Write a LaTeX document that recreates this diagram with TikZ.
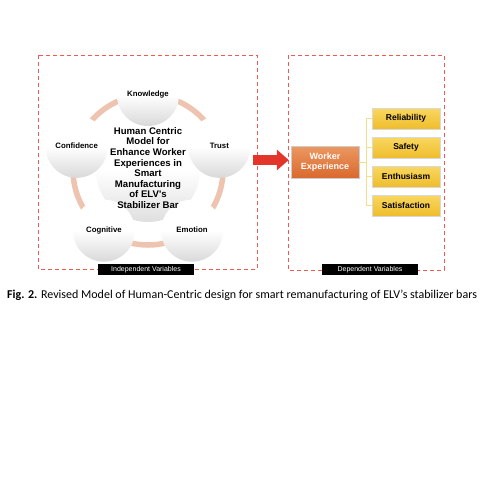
\documentclass[tikz,border=0pt]{standalone}
\usepackage{fontspec}
\setmainfont{Carlito}
\newfontfamily\dfont{Liberation Sans}
\usetikzlibrary{calc,arrows.meta,shadows}

\definecolor{dashred}{HTML}{EE5A55}
\definecolor{ringc}{HTML}{EEC3AF}
\definecolor{orgtop}{HTML}{EC9862}
\definecolor{orgbot}{HTML}{D9692D}
\definecolor{yeltop}{HTML}{F9D760}
\definecolor{yelbot}{HTML}{EFBD2C}
\definecolor{treec}{HTML}{F6DE8E}
\definecolor{arrred}{HTML}{E4352B}

\begin{document}
\begin{tikzpicture}[x=1pt,y=-1pt,
  frame/.style={draw=dashred, line width=0.8pt, dash pattern=on 4pt off 3pt},
  tag/.style={fill=black, text=white, font=\dfont\fontsize{7}{8}\selectfont,
    minimum width=96pt, minimum height=11pt, inner sep=0pt},
  ball/.style={circle, minimum size=62pt, inner sep=0pt, top color=white,
    bottom color=gray!30, middle color=white, font=\dfont\bfseries\fontsize{7.8}{8}\selectfont},
  hub/.style={circle, minimum size=104pt, inner sep=0pt, top color=white,
    bottom color=gray!25, middle color=white},
  wbox/.style={rectangle, top color=orgtop, bottom color=orgbot, draw=gray!40,
    minimum width=68pt, minimum height=32pt, inner sep=0pt, align=center,
    text=white, font=\dfont\bfseries\fontsize{9}{10}\selectfont,
    drop shadow={opacity=0.25, shadow xshift=0.8pt, shadow yshift=-0.8pt}},
  ybox/.style={rectangle, top color=yeltop, bottom color=yelbot, draw=gray!30,
    minimum width=68pt, minimum height=21pt, inner sep=0pt,
    font=\dfont\bfseries\fontsize{8.5}{10}\selectfont,
    drop shadow={opacity=0.25, shadow xshift=0.8pt, shadow yshift=-0.8pt}},
  tree/.style={draw=treec, line width=0.8pt}]

  \useasboundingbox (0,0) rectangle (494,482);

  % dashed frames and their tags
  \draw[frame] (38,55) rectangle (257,269);
  \draw[frame] (288,55) rectangle (444,270);
  \node[tag] (indep) at (146,269.5) {Independent Variables};
  \node[tag] (dep) at (370,269.5) {Dependent Variables};

  % ring of independent variables
  \coordinate (cen) at (148,170);
  \draw[ringc, line width=5.5pt] (cen) circle[radius=75pt];
  \node[hub] (core) at (cen) {};
  \foreach \a/\t/\n in {90/Knowledge/kn, 18/Trust/tr, -54/Emotion/em,
                        -126/Cognitive/co, 162/Confidence/cf}
    \node[ball] (\n) at ($(cen)+(\a:75pt)$) {\raisebox{3pt}{\t}};
  \node[align=center, font=\dfont\bfseries\fontsize{9.6}{10.6}\selectfont] (coretxt) at (148,168)
    {Human Centric\\Model for\\Enhance Worker\\Experiences in\\Smart\\Manufacturing\\of ELV's\\Stabilizer Bar};

  % dependent side
  \node[wbox] (we) at (325,162) {Worker\\Experience};
  \node[ybox] (rel) at (406,118.5) {Reliability};
  \node[ybox] (saf) at (406,147.5) {Safety};
  \node[ybox] (ent) at (406,176.5) {Enthusiasm};
  \node[ybox] (sat) at (406,205.5) {Satisfaction};
  \coordinate (jn) at (366,162);
  \draw[tree] (we.east) -- (jn);
  \foreach \b in {rel,saf,ent,sat}
    \draw[tree] (\b.west) -| (jn);

  % big arrow
  \coordinate (arrS) at (253,160);
  \draw[arrred, line width=10pt, -{Triangle[length=12pt,width=20pt]}]
    (arrS) -- ([xshift=-2pt]we.west |- arrS);

  % caption
  \node[anchor=west, font=\fontsize{12}{14}\selectfont, inner sep=0pt] (cap) at (7,295)
    {\textbf{Fig. 2.} Revised Model of Human-Centric design for smart remanufacturing of ELV's stabilizer bars};
\end{tikzpicture}
\end{document}
